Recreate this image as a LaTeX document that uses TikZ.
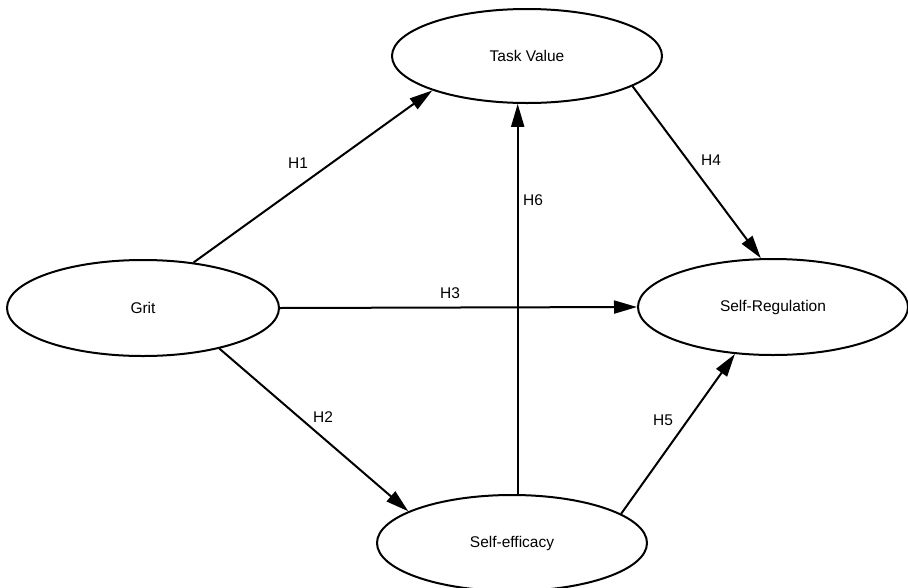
\documentclass[tikz,border=0pt]{standalone}
\usepackage{fontspec}
\setmainfont{Liberation Sans}
\usetikzlibrary{arrows.meta,shapes.geometric}
\begin{document}
\begin{tikzpicture}[x=1pt,y=-1pt,
  construct/.style={ellipse,draw=black,line width=2pt,fill=white,inner sep=0pt,
    font=\fontsize{15.5}{18}\selectfont},
  arr/.style={line width=2pt,-{Triangle[length=23pt,width=13pt]}},
  lbl/.style={font=\fontsize{15.5}{18}\selectfont,inner sep=0pt}]
\useasboundingbox (0,0) rectangle (908,587);
\clip (0,0) rectangle (908,587);
\fill[white] (0,0) rectangle (908,587);
\node[construct,minimum width=270pt,minimum height=94pt] (tv) at (527,56) {Task Value};
\node[construct,minimum width=272pt,minimum height=96pt] (grit) at (143,308) {Grit};
\node[construct,minimum width=270pt,minimum height=96pt] (sr) at (773,307) {Self-Regulation};
\node[construct,minimum width=270pt,minimum height=96pt] (se) at (512,543) {Self-efficacy};
\draw[arr] (grit.42.6) -- (tv.200.75);
\draw[arr] (grit.0) -- (sr.180);
\draw[arr] (grit.-28.4) -- (se.163.5);
\draw[arr] (se.north -| tv.259) -- (tv.259);
\draw[arr] (tv.-16.3) -- (sr.104.9);
\draw[arr] (se.15.8) -- (sr.231.2);
\node[lbl] (h1) at (298,163) {H1};
\node[lbl] (h2) at (323,417) {H2};
\node[lbl] (h3) at (450,293) {H3};
\node[lbl] (h4) at (711,160) {H4};
\node[lbl] (h5) at (663,420) {H5};
\node[lbl] (h6) at (533,200) {H6};
\end{tikzpicture}
\end{document}
